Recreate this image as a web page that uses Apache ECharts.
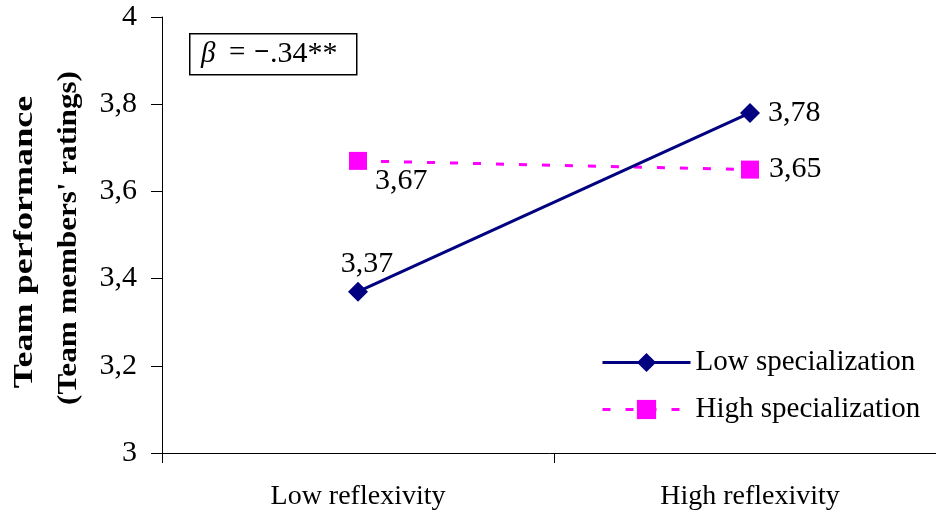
<!DOCTYPE html>
<html><head><meta charset="utf-8">
<script src="https://cdn.jsdelivr.net/npm/echarts@6/dist/echarts.min.js"></script>
<style>html,body{margin:0;padding:0;background:#fff}#c{width:936px;height:517px}</style>
</head><body><div id="c"></div>
<script>
const categories = ['Low reflexivity', 'High reflexivity'];
const lowSpecialization = [3.37, 3.78];
const highSpecialization = [3.67, 3.65];
const yTicks = [3, 3.2, 3.4, 3.6, 3.8, 4];
const seriesNames = ['Low specialization', 'High specialization'];
const yAxisTitle = ['Team performance', '(Team members\' ratings)'];
const betaParts = ['β', '=', '−', '.34**'];

const FONT = '"Liberation Serif", "Times New Roman", serif';
const fmt = v => String(+v.toFixed(2)).replace('.', ',');

const chart = echarts.init(document.getElementById('c'));
chart.setOption({
  backgroundColor: '#fff',
  animation: false,
  textStyle: { fontFamily: FONT, color: '#000' },
  graphic: [
    {
      type: 'rect', left: 189, top: 33,
      shape: { width: 167, height: 41 },
      style: { fill: '#fff', stroke: '#000', lineWidth: 1.5 }, z: 10
    },
    { type: 'text', x: 201, y: 54, z: 11, style: { text: betaParts[0], font: 'italic 29px ' + FONT, fill: '#000', verticalAlign: 'middle' } },
    { type: 'text', x: 229, y: 53, z: 11, style: { text: betaParts[1], font: '29px ' + FONT, fill: '#000', verticalAlign: 'middle' } },
    { type: 'text', x: 254, y: 53, z: 11, style: { text: betaParts[2], font: 'bold 27px ' + FONT, fill: '#000', verticalAlign: 'middle' } },
    { type: 'text', x: 270, y: 54, z: 11, style: { text: betaParts[3], font: '30px ' + FONT, fill: '#000', verticalAlign: 'middle' } },
    {
      type: 'text', x: 25, y: 242, rotation: Math.PI / 2, scaleX: 1.29, z: 11,
      style: { text: yAxisTitle[0], font: 'bold 28px ' + FONT, fill: '#000', align: 'center', verticalAlign: 'middle' }
    },
    {
      type: 'text', x: 69, y: 238, rotation: Math.PI / 2, scaleX: 1.11, z: 11,
      style: { text: yAxisTitle[1], font: 'bold 28px ' + FONT, fill: '#000', align: 'center', verticalAlign: 'middle' }
    }
  ],
  legend: {
    orient: 'vertical', left: 596, top: 343,
    itemWidth: 88, itemHeight: 24, itemGap: 18,
    lineStyle: { width: 3 },
    textStyle: { fontFamily: FONT, fontSize: 29, color: '#000' },
    data: seriesNames
  },
  grid: { left: 162, width: 784, top: 17, bottom: 64, outerBoundsMode: 'none' },
  xAxis: {
    type: 'category', data: categories, boundaryGap: true,
    axisLine: { lineStyle: { color: '#000', width: 1 } },
    axisTick: { show: true, length: 10, lineStyle: { color: '#000' } },
    axisLabel: { fontFamily: FONT, fontSize: 28, color: '#000', margin: 30 }
  },
  yAxis: {
    type: 'value', min: yTicks[0], max: yTicks[yTicks.length - 1], interval: 0.2,
    axisLine: { show: true, lineStyle: { color: '#000', width: 1 } },
    axisTick: { show: true, length: 11, lineStyle: { color: '#000' } },
    splitLine: { show: false },
    axisLabel: { fontFamily: FONT, fontSize: 30, color: '#000', margin: 25, formatter: v => fmt(v) }
  },
  series: [
    {
      name: seriesNames[0], type: 'line',
      symbol: 'diamond', symbolSize: 20,
      itemStyle: { color: '#000080' },
      lineStyle: { color: '#000080', width: 3 },
      label: { show: true, fontFamily: FONT, fontSize: 30, color: '#000', formatter: p => fmt(p.value) },
      data: [
        { value: lowSpecialization[0], label: { position: 'top', distance: 3, offset: [9, 0] } },
        { value: lowSpecialization[1], label: { position: 'right', distance: 8 } }
      ],
      z: 3
    },
    {
      name: seriesNames[1], type: 'line',
      symbol: 'rect', symbolSize: 18,
      itemStyle: { color: '#FF00FF' },
      lineStyle: { color: '#FF00FF', width: 3, type: [8, 15] },
      label: { show: true, fontFamily: FONT, fontSize: 30, color: '#000', formatter: p => fmt(p.value) },
      data: [
        { value: highSpecialization[0], label: { position: 'right', offset: [0, 20], distance: 8 } },
        { value: highSpecialization[1], label: { position: 'right', distance: 10 } }
      ],
      z: 2
    }
  ]
});
</script></body></html>
